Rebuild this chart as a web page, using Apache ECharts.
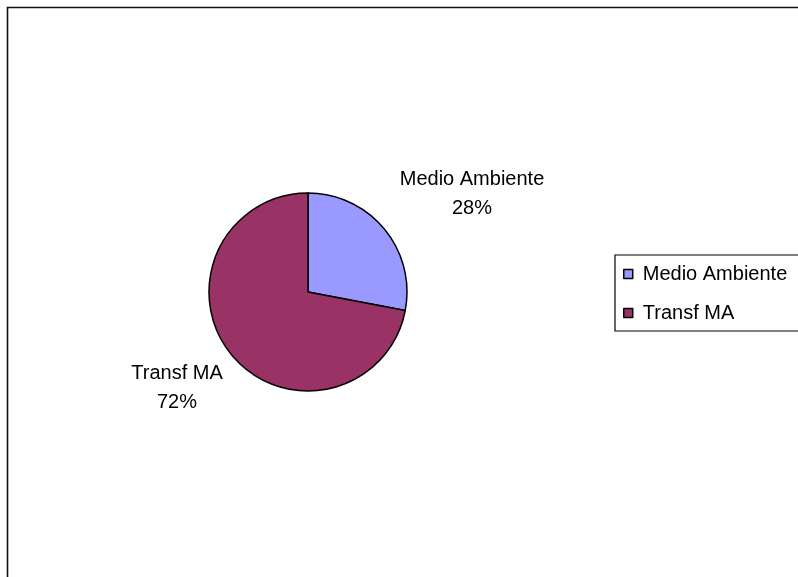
<!DOCTYPE html>
<html>
<head>
<meta charset="utf-8">
<script src="https://cdn.jsdelivr.net/npm/echarts@6/dist/echarts.min.js"></script>
<style>
html,body{margin:0;padding:0;background:#fff;}
#chart{width:798px;height:577px;}
</style>
</head>
<body>
<div id="chart"></div>
<script>
const categories = ['Medio Ambiente', 'Transf MA'];
const values = [28, 72];
const colors = ['#9999FF', '#993366'];

const pieCenter = [308, 292];
const pieRadius = 99;
// label centre offsets from the pie centre (Excel-style data label placement)
const labelOffsets = [[164, -98], [-131, 96]];

const chart = echarts.init(document.getElementById('chart'), null, {renderer: 'canvas'});
const FONT = '"Liberation Sans", Arial, sans-serif';

chart.setOption({
  animation: false,
  backgroundColor: '#ffffff',
  graphic: [{
    type: 'rect',
    shape: {x: 7.5, y: 7.5, width: 1000, height: 1000},
    style: {fill: 'none', stroke: '#111', lineWidth: 1.6},
    silent: true
  }],
  legend: {
    orient: 'vertical',
    left: 615,
    top: 255,
    padding: [9, 40, 8, 8],
    itemGap: 19,
    itemWidth: 9,
    itemHeight: 9,
    icon: 'rect',
    borderColor: '#000',
    borderWidth: 1.2,
    backgroundColor: '#fff',
    data: categories,
    textStyle: {fontFamily: FONT, fontSize: 20, color: '#000', lineHeight: 20, padding: [0, 0, 0, 5]},
    itemStyle: {borderColor: '#000', borderWidth: 1.5}
  },
  series: [{
    type: 'pie',
    center: pieCenter,
    radius: pieRadius,
    startAngle: 90,
    clockwise: true,
    itemStyle: {borderColor: '#000', borderWidth: 1.5},
    label: {
      show: true,
      position: 'outside',
      formatter: p => p.name + '\n' + Math.round(p.percent) + '%',
      fontFamily: FONT,
      fontSize: 20,
      lineHeight: 29,
      color: '#000',
      align: 'center'
    },
    labelLine: {show: false},
    labelLayout: function (params) {
      const o = labelOffsets[params.dataIndex];
      return {x: pieCenter[0] + o[0], y: pieCenter[1] + o[1], align: 'center', verticalAlign: 'middle'};
    },
    emphasis: {disabled: true},
    data: categories.map((c, i) => ({name: c, value: values[i], itemStyle: {color: colors[i]}}))
  }]
});
</script>
</body>
</html>
